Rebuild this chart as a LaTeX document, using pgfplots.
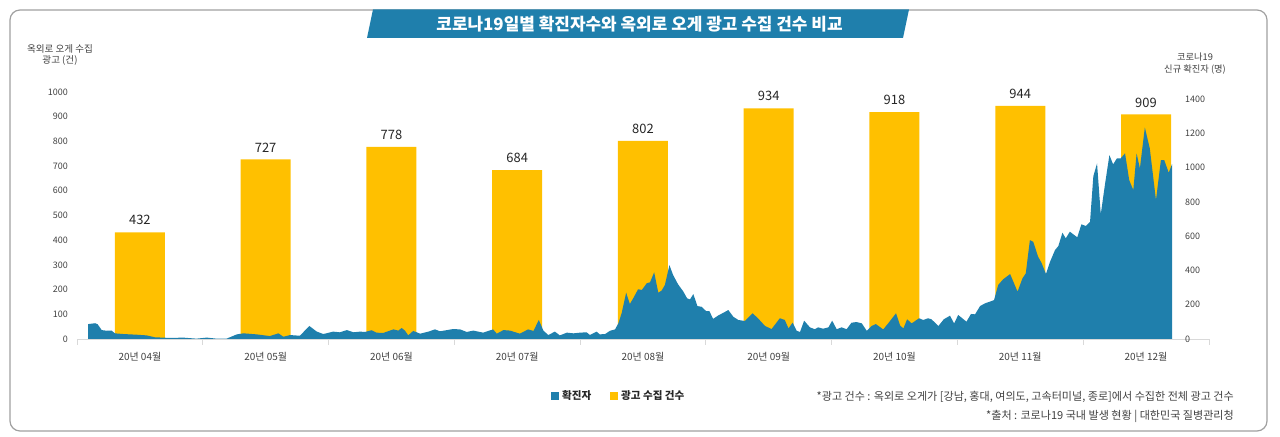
\documentclass[border=0pt]{standalone}
\usepackage{fontspec}
\setmainfont{Noto Sans CJK KR}
\usepackage{pgfplots}
\pgfplotsset{compat=1.18}
\usepackage{graphicx}
\definecolor{cblue}{RGB}{31,127,172}
\definecolor{cyellow}{RGB}{255,192,0}
\definecolor{txt}{RGB}{64,64,64}
\definecolor{axisgray}{RGB}{217,217,217}
\definecolor{bordergray}{RGB}{160,160,160}
\begin{document}
\begin{tikzpicture}[x=1bp,y=1bp]
\useasboundingbox (0,0) rectangle (1280,437);
% frame
\draw[bordergray, line width=1.2bp, rounded corners=10bp] (10,427) rectangle (1267,6);
% title banner
\fill[cblue] (373,427.6) -- (909,427.6) -- (903,399) -- (367,399) -- cycle;
\node[text=white, inner sep=0pt, font=\bfseries\fontsize{17}{17}\selectfont] at (639.5,413) {코로나19일별 확진자수와 옥외로 오게 광고 수집 건수 비교};
% axis titles
\node[text=txt, inner sep=0pt, align=center, font=\fontsize{9.6}{11.5}\selectfont] at (60,382) {옥외로 오게 수집\\광고 (건)};
\node[text=txt, inner sep=0pt, align=center, font=\fontsize{9.3}{12.5}\selectfont] at (1195,373.5) {코로나19\\신규 확진자 (명)};

% bars axis
\begin{axis}[
  at={(77bp,98bp)}, anchor=south west,
  scale only axis, width=1132bp, height=247bp,
  xmin=-0.5, xmax=8.5, ymin=0, ymax=1000,
  axis x line*=bottom, axis y line*=left,
  y axis line style={draw=none},
  x axis line style={axisgray, line width=0.8bp},
  xtick={0,...,8},
  xticklabels={20년 04월,20년 05월,20년 06월,20년 07월,20년 08월,20년 09월,20년 10월,20년 11월,20년 12월},
  minor xtick={-0.5,0.5,...,8.5},
  tick align=outside, major tick length=0bp, minor tick length=6bp,
  tick style={axisgray, line width=0.8bp},
  ytick={0,100,...,1000},
  xticklabel style={font=\fontsize{10}{10}\selectfont, text=txt, anchor=north, inner sep=0pt},
  xticklabel shift=13bp,
  yticklabel style={font=\fontsize{9}{10}\selectfont, text=txt, anchor=east, inner sep=0pt},
  yticklabel shift=9bp,
  /pgf/number format/assume math mode=true,
  /pgf/number format/1000 sep={},
  clip=false,
]
\addplot[ybar, bar width=50bp, fill=cyellow, draw=none,
  nodes near coords,
  nodes near coords style={font=\fontsize{13}{13}\selectfont, text=black!85, anchor=south, inner sep=0pt, yshift=7bp}]
  coordinates {(0,432) (1,727) (2,778) (3,684) (4,802) (5,934) (6,918) (7,944) (8,909)};
\end{axis}

% daily cases axis
\begin{axis}[
  at={(77bp,98bp)}, anchor=south west,
  scale only axis, width=1095bp, height=247bp,
  xmin=0, xmax=265.8, ymin=0, ymax=1441,
  hide x axis,
  axis y line*=right, y axis line style={draw=none},
  ytick={0,200,...,1400}, major tick length=0bp, ytick style={draw=none},
  yticklabel style={font=\fontsize{9}{10}\selectfont, text=txt, anchor=west, inner sep=0pt},
  yticklabel shift=13bp,
  /pgf/number format/assume math mode=true,
  /pgf/number format/1000 sep={},
  clip=false,
]
\addplot[fill=cblue, draw=none] table[row sep=\\] {
x y\\
2.7 87\\ 4.4 92\\ 5.0 86\\ 6.0 52\\ 7.2 48\\ 8.4 49\\ 9.2 33\\ 11.2 29\\ 14.5 25\\ 16.9 21\\
18.9 10\\ 22.6 6\\ 25.8 8\\ 29.0 2\\ 31.5 8\\ 33.9 2\\ 36.3 2\\ 38.8 27\\ 40.4 33\\ 43.6 27\\
46.8 17\\ 48.9 33\\ 50.1 13\\ 51.7 23\\ 54.1 19\\ 56.4 76\\ 58.2 43\\ 59.8 29\\ 62.2 43\\ 63.8 39\\
65.5 52\\ 67.1 39\\ 68.7 43\\ 69.9 41\\ 71.5 51\\ 72.7 37\\ 74.3 35\\ 76.8 56\\ 78.0 49\\ 78.8 64\\
79.6 49\\ 80.4 21\\ 81.6 47\\ 83.3 31\\ 85.3 43\\ 86.9 56\\ 88.1 45\\ 91.3 58\\ 93.0 56\\ 94.6 41\\
96.2 49\\ 98.6 37\\ 101.0 56\\ 101.9 31\\ 103.5 52\\ 105.1 49\\ 107.5 31\\ 109.5 56\\ 110.8 47\\ 112.1 111\\
113.2 49\\ 114.4 23\\ 116.0 43\\ 117.2 21\\ 118.9 37\\ 120.5 33\\ 122.1 37\\ 123.7 39\\ 124.5 23\\ 126.1 43\\
126.9 27\\ 128.2 29\\ 129.4 48\\ 130.6 56\\ 131.4 91\\ 132.2 150\\ 133.3 270\\ 134.2 204\\ 135.0 237\\ 136.2 290\\
137.1 286\\ 138.3 325\\ 139.1 331\\ 140.1 389\\ 141.1 270\\ 141.9 282\\ 142.7 315\\ 143.8 431\\ 144.7 373\\ 145.9 319\\
147.2 276\\ 148.1 237\\ 148.8 231\\ 149.6 262\\ 150.6 192\\ 151.6 188\\ 152.7 163\\ 153.5 163\\ 154.4 117\\ 155.7 138\\
156.9 153\\ 158.1 169\\ 159.3 130\\ 160.5 111\\ 162.1 105\\ 164.0 150\\ 165.4 118\\ 167.0 76\\ 168.6 58\\ 170.6 121\\
171.8 111\\ 172.7 62\\ 173.7 95\\ 174.7 48\\ 175.5 41\\ 176.5 107\\ 177.9 68\\ 179.1 57\\ 179.9 68\\ 181.1 60\\
182.4 68\\ 183.3 107\\ 184.4 57\\ 185.6 68\\ 186.8 57\\ 188.0 95\\ 189.2 99\\ 190.5 91\\ 191.7 48\\ 192.9 76\\
193.9 87\\ 195.7 56\\ 196.9 91\\ 198.8 150\\ 199.8 78\\ 200.6 62\\ 201.5 115\\ 202.6 91\\ 204.4 121\\ 205.4 111\\
206.6 121\\ 207.4 115\\ 209.1 76\\ 210.4 115\\ 211.9 136\\ 212.9 91\\ 213.9 140\\ 215.9 101\\ 217.0 146\\ 218.0 144\\
219.2 192\\ 220.4 208\\ 221.6 218\\ 222.6 227\\ 223.6 315\\ 224.8 348\\ 226.5 379\\ 228.3 276\\ 229.5 354\\ 230.3 383\\
231.3 577\\ 232.1 567\\ 233.3 480\\ 234.1 445\\ 235.2 379\\ 236.2 451\\ 237.4 519\\ 238.2 542\\ 239.2 620\\ 240.0 587\\
241.0 626\\ 242.8 593\\ 243.8 669\\ 244.9 659\\ 245.9 684\\ 246.7 950\\ 247.6 1024\\ 248.5 727\\ 249.5 898\\ 250.6 1073\\
251.5 1019\\ 252.4 1053\\ 253.3 1053\\ 254.4 1083\\ 255.4 927\\ 256.4 869\\ 257.2 1083\\ 258.0 995\\ 259.2 1234\\ 260.4 1112\\
261.9 810\\ 263.1 1044\\ 263.9 1044\\ 265.0 970\\ 265.8 1020\\
} \closedcycle;
\end{axis}

% legend
\fill[cblue] (551,44.5) rectangle (559,37);
\node[anchor=west, inner sep=0pt, text=black!85, font=\bfseries\fontsize{10.6}{10.6}\selectfont] at (562,41) {확진자};
\fill[cyellow] (609.5,44.5) rectangle (617.5,37);
\node[anchor=west, inner sep=0pt, text=black!85, font=\bfseries\fontsize{10.6}{10.6}\selectfont] at (621,41) {광고 수집 건수};
% notes
\node[anchor=east, inner sep=0pt, text=txt, font=\fontsize{11.1}{11.1}\selectfont] at (1234,40.3) {*광고 건수 : 옥외로 오게가 [강남, 홍대, 여의도, 고속터미널, 종로]에서 수집한 전체 광고 건수};
\node[anchor=east, inner sep=0pt, text=txt, font=\fontsize{11.1}{11.1}\selectfont] at (1234,20.3) {*출처 : 코로나19 국내 발생 현황 | 대한민국 질병관리청};
\end{tikzpicture}
\end{document}
